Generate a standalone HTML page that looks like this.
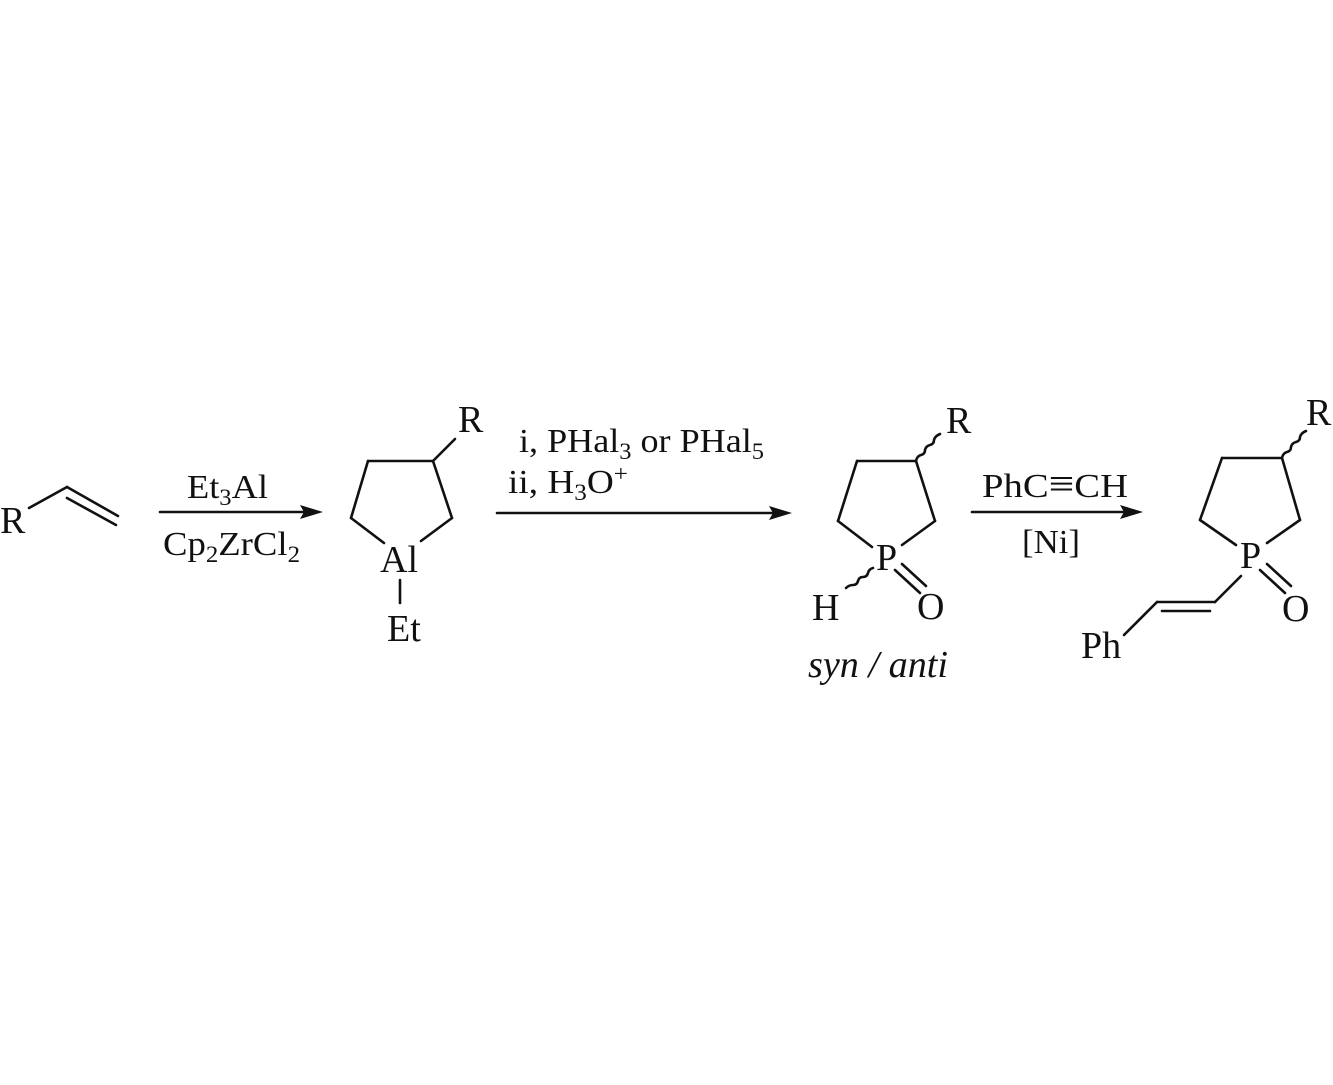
<!DOCTYPE html>
<html><head><meta charset="utf-8"><style>
html,body{margin:0;padding:0;background:#fff;}
svg{display:block;}
text{font-family:"Liberation Serif",serif;fill:#111;}
</style></head><body>
<svg width="1333" height="1085" viewBox="0 0 1333 1085" xmlns="http://www.w3.org/2000/svg">
<g stroke="#111" stroke-width="2.6" fill="none" stroke-linecap="round">
<line x1="29" y1="508" x2="67" y2="487"/>
<line x1="67" y1="487" x2="118" y2="516"/>
<line x1="67" y1="498" x2="116" y2="525"/>
<line x1="160" y1="512" x2="305" y2="512"/>
<line x1="368" y1="461" x2="433" y2="461"/>
<line x1="368" y1="461" x2="351" y2="518"/>
<line x1="351" y1="518" x2="384" y2="543"/>
<line x1="433" y1="461" x2="452" y2="518"/>
<line x1="452" y1="518" x2="421" y2="541"/>
<line x1="433" y1="461" x2="455" y2="439"/>
<line x1="400" y1="580" x2="400" y2="603"/>
<line x1="497" y1="513" x2="775" y2="513"/>
<line x1="857" y1="461" x2="916" y2="461"/>
<line x1="857" y1="461" x2="838" y2="521"/>
<line x1="838" y1="521" x2="872" y2="547"/>
<line x1="916" y1="461" x2="935" y2="521"/>
<line x1="935" y1="521" x2="902" y2="545"/>
<path d="M916 461 q1 -5 5 -6 q4 -1 4 -5 q1 -4 5 -5 q4 -1 4 -5 q1 -4 6 -6"/>
<path d="M873 568 q-4 1 -5 5 q-1 4 -5 4 q-4 0 -5 4 q-1 4 -5 4 q-4 0 -7 3"/>
<line x1="895" y1="570" x2="920" y2="593"/>
<line x1="902" y1="564" x2="926" y2="586"/>
<line x1="972" y1="512" x2="1126" y2="512"/>
<line x1="1222" y1="458" x2="1282" y2="458"/>
<line x1="1222" y1="458" x2="1200" y2="520"/>
<line x1="1200" y1="520" x2="1236" y2="545"/>
<line x1="1282" y1="458" x2="1300" y2="520"/>
<line x1="1300" y1="520" x2="1267" y2="543"/>
<path d="M1282 458 q1 -5 5 -6 q4 -1 4 -5 q1 -4 5 -5 q4 -1 4 -5 q1 -4 6 -6"/>
<line x1="1260" y1="570" x2="1285" y2="593"/>
<line x1="1267" y1="564" x2="1291" y2="586"/>
<line x1="1241" y1="576" x2="1215" y2="602"/>
<line x1="1215" y1="602" x2="1157" y2="602"/>
<line x1="1210" y1="611" x2="1162" y2="611"/>
<line x1="1157" y1="602" x2="1124" y2="635"/>
</g>
<g fill="#111">
<polygon points="323,512 300,505 304,512 300,519"/>
<polygon points="792,513 769,506 773,513 769,520"/>
<polygon points="1143,512 1120,505 1124,512 1120,519"/>
</g>
<g font-size="38">
<text x="0" y="533">R</text>
<text x="458" y="432">R</text>
<text x="380" y="572">Al</text>
<text x="387" y="641">Et</text>
<text x="946" y="433">R</text>
<text x="876" y="570">P</text>
<text x="812" y="620">H</text>
<text x="917" y="619">O</text>
<text x="1306" y="425">R</text>
<text x="1240" y="568">P</text>
<text x="1282" y="621">O</text>
<text x="1081" y="658">Ph</text>
<text x="808" y="677" font-style="italic" textLength="140" lengthAdjust="spacingAndGlyphs">syn / anti</text>
</g>
<g font-size="34">
<text x="187" y="498" textLength="81" lengthAdjust="spacingAndGlyphs">Et<tspan font-size="23" dy="7">3</tspan><tspan dy="-7">Al</tspan></text>
<text x="163" y="555" textLength="137" lengthAdjust="spacingAndGlyphs">Cp<tspan font-size="23" dy="7">2</tspan><tspan dy="-7">ZrCl</tspan><tspan font-size="23" dy="7">2</tspan></text>
<text x="519" y="452" textLength="245" lengthAdjust="spacingAndGlyphs">i, PHal<tspan font-size="23" dy="7">3</tspan><tspan dy="-7"> or PHal</tspan><tspan font-size="23" dy="7">5</tspan></text>
<text x="508" y="493" textLength="120" lengthAdjust="spacingAndGlyphs">ii, H<tspan font-size="23" dy="7">3</tspan><tspan dy="-7">O</tspan><tspan font-size="23" dy="-12">+</tspan></text>
<text x="982" y="497" textLength="146" lengthAdjust="spacingAndGlyphs">PhC<tspan font-size="40">≡</tspan>CH</text>
<text x="1022" y="553" textLength="58" lengthAdjust="spacingAndGlyphs">[Ni]</text>
</g>
</svg>
</body></html>
